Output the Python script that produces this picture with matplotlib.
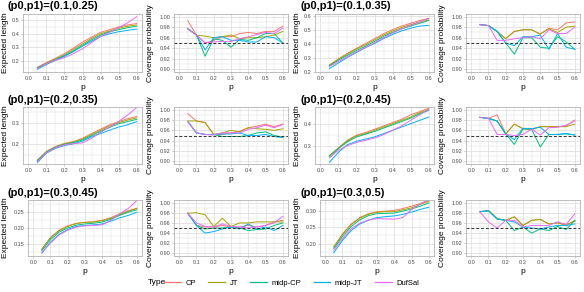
import numpy as np
import matplotlib
matplotlib.use("Agg")
import matplotlib.pyplot as plt
from matplotlib.ticker import MultipleLocator, FormatStrFormatter
from matplotlib.lines import Line2D

plt.rcParams['font.family'] = ['Liberation Sans', 'DejaVu Sans']

p = [0.05, 0.10, 0.15, 0.20, 0.25, 0.30, 0.35, 0.40, 0.45, 0.50, 0.55, 0.60]
types = ["CP", "JT", "midp-CP", "midp-JT", "DufSal"]
colors = ["#F8766D", "#A3A500", "#00BF7D", "#00B0F6", "#E76BF3"]
titles = ["(p0,p1)=(0.1,0.25)", "(p0,p1)=(0.1,0.35)", "(p0,p1)=(0.2,0.35)",
          "(p0,p1)=(0.2,0.45)", "(p0,p1)=(0.3,0.45)", "(p0,p1)=(0.3,0.5)"]

# Expected length, per setting
len_1 = {
    "CP":      [0.155, 0.19, 0.22, 0.255, 0.295, 0.34, 0.375, 0.41, 0.43, 0.45, 0.465, 0.475],
    "JT":      [0.15, 0.185, 0.215, 0.245, 0.285, 0.325, 0.365, 0.40, 0.42, 0.44, 0.455, 0.465],
    "midp-CP": [0.15, 0.18, 0.21, 0.24, 0.275, 0.315, 0.355, 0.39, 0.415, 0.43, 0.445, 0.455],
    "midp-JT": [0.14, 0.175, 0.205, 0.235, 0.27, 0.31, 0.345, 0.38, 0.40, 0.415, 0.425, 0.435],
    "DufSal":  [0.145, 0.18, 0.205, 0.225, 0.255, 0.29, 0.335, 0.38, 0.41, 0.445, 0.48, 0.525],
}
len_2 = {
    "CP":      [0.25, 0.295, 0.335, 0.37, 0.405, 0.44, 0.475, 0.505, 0.53, 0.55, 0.57, 0.585],
    "JT":      [0.25, 0.29, 0.33, 0.365, 0.395, 0.43, 0.465, 0.495, 0.52, 0.54, 0.56, 0.575],
    "midp-CP": [0.245, 0.285, 0.32, 0.355, 0.385, 0.42, 0.455, 0.485, 0.51, 0.53, 0.55, 0.57],
    "midp-JT": [0.225, 0.265, 0.305, 0.34, 0.375, 0.405, 0.44, 0.47, 0.495, 0.515, 0.53, 0.535],
    "DufSal":  [0.24, 0.275, 0.31, 0.345, 0.375, 0.41, 0.445, 0.48, 0.51, 0.535, 0.56, 0.585],
}
len_3 = {
    "CP":      [0.128, 0.168, 0.19, 0.205, 0.213, 0.228, 0.25, 0.27, 0.29, 0.305, 0.318, 0.328],
    "JT":      [0.127, 0.166, 0.189, 0.203, 0.211, 0.225, 0.245, 0.265, 0.285, 0.30, 0.312, 0.322],
    "midp-CP": [0.125, 0.164, 0.187, 0.2, 0.208, 0.22, 0.24, 0.26, 0.278, 0.295, 0.305, 0.315],
    "midp-JT": [0.117, 0.16, 0.182, 0.195, 0.203, 0.215, 0.235, 0.25, 0.265, 0.28, 0.29, 0.305],
    "DufSal":  [0.12, 0.162, 0.185, 0.198, 0.204, 0.207, 0.228, 0.255, 0.28, 0.305, 0.335, 0.37],
}
len_4 = {
    "CP":      [0.255, 0.29, 0.325, 0.348, 0.36, 0.375, 0.39, 0.405, 0.42, 0.44, 0.455, 0.47],
    "JT":      [0.255, 0.29, 0.322, 0.345, 0.355, 0.37, 0.385, 0.40, 0.415, 0.43, 0.45, 0.465],
    "midp-CP": [0.25, 0.287, 0.318, 0.34, 0.352, 0.365, 0.38, 0.395, 0.41, 0.425, 0.445, 0.46],
    "midp-JT": [0.225, 0.27, 0.305, 0.32, 0.33, 0.34, 0.355, 0.37, 0.385, 0.40, 0.415, 0.43],
    "DufSal":  [0.245, 0.28, 0.30, 0.315, 0.325, 0.335, 0.35, 0.37, 0.39, 0.415, 0.44, 0.465],
}
len_5 = {
    "CP":      [0.133, 0.17, 0.193, 0.207, 0.215, 0.218, 0.22, 0.225, 0.233, 0.245, 0.255, 0.263],
    "JT":      [0.132, 0.168, 0.191, 0.205, 0.214, 0.218, 0.219, 0.223, 0.231, 0.242, 0.253, 0.262],
    "midp-CP": [0.128, 0.163, 0.187, 0.2, 0.209, 0.213, 0.215, 0.219, 0.228, 0.24, 0.25, 0.258],
    "midp-JT": [0.12, 0.155, 0.18, 0.195, 0.205, 0.208, 0.21, 0.213, 0.222, 0.232, 0.24, 0.25],
    "DufSal":  [0.122, 0.152, 0.178, 0.193, 0.203, 0.207, 0.208, 0.21, 0.225, 0.245, 0.262, 0.287],
}
len_6 = {
    "CP":      [0.19, 0.23, 0.26, 0.28, 0.292, 0.298, 0.30, 0.302, 0.308, 0.315, 0.323, 0.333],
    "JT":      [0.19, 0.228, 0.258, 0.278, 0.29, 0.296, 0.298, 0.298, 0.304, 0.31, 0.32, 0.33],
    "midp-CP": [0.185, 0.222, 0.252, 0.273, 0.286, 0.292, 0.293, 0.294, 0.30, 0.306, 0.315, 0.325],
    "midp-JT": [0.172, 0.21, 0.24, 0.26, 0.272, 0.28, 0.283, 0.285, 0.29, 0.297, 0.305, 0.312],
    "DufSal":  [0.18, 0.215, 0.245, 0.263, 0.272, 0.277, 0.276, 0.275, 0.28, 0.305, 0.322, 0.335],
}

# Coverage probability, per setting
cov_1 = {
    "CP":      [0.992, 0.965, 0.95, 0.955, 0.962, 0.962, 0.968, 0.97, 0.968, 0.972, 0.972, 0.982],
    "JT":      [0.977, 0.965, 0.963, 0.96, 0.962, 0.965, 0.958, 0.96, 0.96, 0.962, 0.965, 0.972],
    "midp-CP": [0.977, 0.965, 0.925, 0.958, 0.955, 0.942, 0.957, 0.955, 0.96, 0.968, 0.968, 0.95],
    "midp-JT": [0.977, 0.965, 0.937, 0.96, 0.962, 0.955, 0.955, 0.952, 0.952, 0.962, 0.96, 0.95],
    "DufSal":  [0.977, 0.965, 0.95, 0.952, 0.953, 0.953, 0.958, 0.962, 0.966, 0.97, 0.968, 0.978],
}
cov_2 = {
    "CP":      [0.985, 0.983, 0.972, 0.958, 0.972, 0.975, 0.975, 0.967, 0.978, 0.975, 0.988, 0.99],
    "JT":      [0.985, 0.983, 0.972, 0.958, 0.972, 0.975, 0.975, 0.967, 0.977, 0.97, 0.98, 0.982],
    "midp-CP": [0.985, 0.983, 0.972, 0.95, 0.929, 0.96, 0.96, 0.942, 0.94, 0.962, 0.952, 0.938],
    "midp-JT": [0.985, 0.983, 0.972, 0.95, 0.945, 0.962, 0.962, 0.965, 0.938, 0.968, 0.942, 0.938],
    "DufSal":  [0.985, 0.983, 0.955, 0.955, 0.958, 0.96, 0.962, 0.958, 0.975, 0.968, 0.968, 0.98],
}
cov_3 = {
    "CP":      [0.992, 0.978, 0.975, 0.952, 0.952, 0.955, 0.958, 0.965, 0.968, 0.972, 0.967, 0.972],
    "JT":      [0.978, 0.978, 0.975, 0.952, 0.955, 0.96, 0.957, 0.965, 0.963, 0.962, 0.96, 0.963],
    "midp-CP": [0.977, 0.955, 0.952, 0.952, 0.948, 0.948, 0.948, 0.95, 0.955, 0.957, 0.95, 0.947],
    "midp-JT": [0.977, 0.955, 0.952, 0.952, 0.953, 0.953, 0.955, 0.95, 0.95, 0.952, 0.948, 0.946],
    "DufSal":  [0.977, 0.955, 0.952, 0.951, 0.955, 0.955, 0.955, 0.962, 0.965, 0.97, 0.965, 0.971],
}
cov_4 = {
    "CP":      [0.985, 0.983, 0.99, 0.953, 0.972, 0.963, 0.962, 0.967, 0.967, 0.967, 0.968, 0.98],
    "JT":      [0.985, 0.983, 0.978, 0.953, 0.972, 0.963, 0.962, 0.967, 0.967, 0.967, 0.967, 0.972],
    "midp-CP": [0.985, 0.983, 0.978, 0.953, 0.933, 0.963, 0.962, 0.928, 0.952, 0.952, 0.953, 0.951],
    "midp-JT": [0.985, 0.983, 0.978, 0.953, 0.942, 0.964, 0.963, 0.966, 0.952, 0.952, 0.954, 0.951],
    "DufSal":  [0.985, 0.983, 0.952, 0.952, 0.95, 0.952, 0.962, 0.951, 0.965, 0.966, 0.97, 0.978],
}
cov_5 = {
    "CP":      [0.979, 0.955, 0.952, 0.952, 0.955, 0.952, 0.952, 0.955, 0.952, 0.955, 0.962, 0.965],
    "JT":      [0.979, 0.98, 0.976, 0.953, 0.969, 0.953, 0.96, 0.96, 0.962, 0.962, 0.962, 0.962],
    "midp-CP": [0.979, 0.955, 0.948, 0.95, 0.95, 0.952, 0.95, 0.945, 0.947, 0.948, 0.955, 0.96],
    "midp-JT": [0.979, 0.955, 0.94, 0.943, 0.948, 0.952, 0.948, 0.958, 0.948, 0.952, 0.945, 0.955],
    "DufSal":  [0.979, 0.96, 0.953, 0.952, 0.958, 0.953, 0.952, 0.95, 0.952, 0.955, 0.96, 0.973],
}
cov_6 = {
    "CP":      [0.982, 0.984, 0.968, 0.965, 0.972, 0.955, 0.965, 0.967, 0.958, 0.96, 0.957, 0.963],
    "JT":      [0.982, 0.984, 0.968, 0.965, 0.972, 0.955, 0.965, 0.967, 0.958, 0.96, 0.955, 0.965],
    "midp-CP": [0.982, 0.984, 0.968, 0.965, 0.945, 0.952, 0.94, 0.948, 0.945, 0.953, 0.947, 0.965],
    "midp-JT": [0.982, 0.984, 0.968, 0.965, 0.962, 0.952, 0.95, 0.948, 0.952, 0.955, 0.955, 0.958],
    "DufSal":  [0.982, 0.962, 0.95, 0.965, 0.965, 0.952, 0.955, 0.955, 0.955, 0.962, 0.957, 0.978],
}

lengths = [len_1, len_2, len_3, len_4, len_5, len_6]
coverages = [cov_1, cov_2, cov_3, cov_4, cov_5, cov_6]
len_ylims = [(0.12, 0.545), (0.20, 0.617), (0.11, 0.372), (0.217, 0.476), (0.111, 0.289), (0.162, 0.334)]
len_major = [0.1, 0.1, 0.1, 0.1, 0.05, 0.05]

W, H = 584, 292
fig = plt.figure(figsize=(W / 100, H / 100), dpi=100)

rows = [(14, 72), (107, 164), (200, 256)]
# left edges: length panels with 3-char / 4-char tick labels
len_left_3 = [23, 315]
len_left_4 = [28, 320]
len_right = [142, 434]
cov_cols = [(174, 288), (466, 580)]
len_label_right = [9, 301]
cov_label_right = [154, 446]
title_x = [8, 300]
title_y = [6, 100, 193]

GRID = "#E0E0E0"
BORDER = "#B3B3B3"
TICKC = "#4D4D4D"


def style(ax, ymajor, yfmt, left, right, label_right):
    ax.set_xlim(-0.03, 0.63)
    ax.xaxis.set_major_locator(MultipleLocator(0.1))
    ax.xaxis.set_minor_locator(MultipleLocator(0.05))
    ax.yaxis.set_major_locator(MultipleLocator(ymajor))
    ax.yaxis.set_minor_locator(MultipleLocator(ymajor / 2))
    ax.xaxis.set_major_formatter(FormatStrFormatter("%.1f"))
    ax.yaxis.set_major_formatter(FormatStrFormatter(yfmt))
    ax.grid(True, which="major", color=GRID, lw=0.6)
    ax.grid(True, which="minor", color=GRID, lw=0.35)
    ax.set_axisbelow(True)
    for s in ax.spines.values():
        s.set_color(BORDER)
        s.set_linewidth(0.6)
    ax.tick_params(which="major", length=1.6, width=0.5, color=BORDER,
                   labelsize=4.0, labelcolor=TICKC, pad=1.0)
    ax.tick_params(which="minor", length=0)
    ax.set_xlabel("p", fontsize=6, labelpad=2.5)
    ax.yaxis.set_label_coords((label_right - left) / (right - left), 0.5)


for i in range(6):
    r = i // 2
    k = i % 2
    top, bot = rows[r]
    # length panel
    four = len_major[i] < 0.1
    l = len_left_4[k] if four else len_left_3[k]
    rr = len_right[k]
    ax = fig.add_axes([l / W, 1 - bot / H, (rr - l) / W, (bot - top) / H])
    for t, col in zip(types, colors):
        ax.plot(p, lengths[i][t], color=col, lw=0.7)
    ax.set_ylim(*len_ylims[i])
    ax.set_ylabel("Expected length", fontsize=6)
    style(ax, len_major[i], "%.2f" if four else "%.1f", l, rr, len_label_right[k])
    fig.text(title_x[k] / W, 1 - title_y[r] / H, titles[i],
             fontsize=8, fontweight="bold", va="center", ha="left")
    # coverage panel
    l, rr = cov_cols[k]
    ax2 = fig.add_axes([l / W, 1 - bot / H, (rr - l) / W, (bot - top) / H])
    for t, col in zip(types, colors):
        ax2.plot(p, coverages[i][t], color=col, lw=0.7)
    ax2.axhline(0.95, color="#333333", lw=0.7, ls=(0, (3, 2)))
    ax2.set_ylim(0.895, 1.005)
    ax2.set_ylabel("Coverage probability", fontsize=6)
    style(ax2, 0.02, "%.2f", l, rr, cov_label_right[k])

handles = [Line2D([], [], color=c, lw=0.9) for c in colors]
fig.text(148 / W, 1 - 283 / H, "Type", fontsize=6, va="center", ha="left")
fig.legend(handles, types, loc="center left", bbox_to_anchor=(164 / W, 1 - 283 / H),
           ncol=5, frameon=False, fontsize=5.5, handlelength=2.2, handletextpad=0.6,
           columnspacing=1.6, borderaxespad=0, borderpad=0)

fig.savefig("out.png", dpi=100)
